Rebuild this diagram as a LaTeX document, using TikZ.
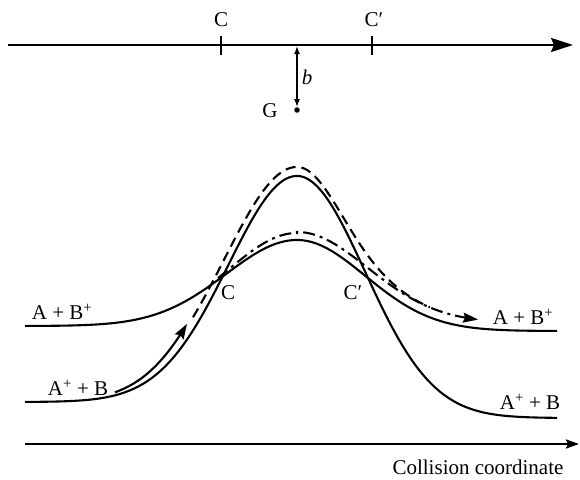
\documentclass[tikz,border=0pt]{standalone}
\usepackage{fontspec}
\setmainfont{Liberation Serif}
\usetikzlibrary{arrows.meta}
\begin{document}
\begin{tikzpicture}[x=1pt,y=-1pt,
  declare function={g(\u,\s)=exp(-((\u-297)/\s)*((\u-297)/\s));},
  lbl/.style={font=\fontsize{21}{25}\selectfont, inner sep=0pt},
  axisline/.style={line width=2.4pt},
  curveline/.style={line width=2.1pt},
  bigtip/.style={-{Stealth[length=22pt,width=14pt,inset=3pt]}},
  smalltip/.style={{Latex[length=8pt,width=6pt]}-{Latex[length=8pt,width=6pt]}},
  midtip/.style={-{Stealth[length=15pt,width=10pt,inset=2pt]}},
  dashline/.style={curveline, dash pattern=on 10pt off 6pt},
  dotdashline/.style={curveline, dash pattern=on 12pt off 5pt on 3pt off 5pt}]
\useasboundingbox (0,0) rectangle (580,479);
% top axis
\coordinate (topL) at (8,45);
\coordinate (topR) at (573,45);
\draw[axisline, bigtip] (topL) -- (topR);
\coordinate (t1a) at (221,36); \coordinate (t1b) at (221,55);
\coordinate (t2a) at (372,36); \coordinate (t2b) at (372,55);
\draw[axisline] (t1a) -- (t1b);
\draw[axisline] (t2a) -- (t2b);
\node[lbl] (cTop) at (221,20) {C};
\node[lbl] (cpTop) at (374,20) {C′};
\node[circle, fill, inner sep=0pt, minimum size=5.5pt] (gdot) at (297,110) {};
\coordinate (bTop) at (297,46);
\draw[line width=1.4pt, smalltip] (bTop) -- (gdot.north);
\node[lbl] (blab) at (307,77) {\textit{b}};
\node[lbl] (glab) at (270,111) {G};
% lower adiabatic (A+B+ asymptotes)
\draw[curveline] plot[domain=25:297, samples=120] (\x, {326-86*g(\x,100)});
\draw[curveline] plot[domain=297:557, samples=120] (\x, {331-91*g(\x,96.5)});
% upper (A+ + B asymptotes)
\draw[curveline] plot[domain=25:297, samples=120] (\x, {402-226*g(\x,97)});
\draw[curveline] plot[domain=297:557, samples=120] (\x, {418-242*g(\x,96)});
% incoming trajectory arrow
\draw[curveline, midtip] plot[domain=115:187, samples=40] (\x, {402-226*g(\x+10,97)});
% dashed trajectory
\draw[dashline] plot[domain=193:297, samples=80] (\x, {402-235*g(\x,103)})
   -- plot[domain=297:430, samples=100] (\x, {323-91*g(\x,100)-65*g(\x,55)});
% dot-dashed trajectory
\draw[dotdashline, midtip] plot[domain=218:297, samples=60] (\x, {326-93*g(\x,97)})
   -- plot[domain=297:478, samples=120] (\x, {323-91*g(\x,100)});
% labels
\node[lbl] (abpL) at (62,312) {A + B\textsuperscript{+}};
\node[lbl] (apbL) at (78,388) {A\textsuperscript{+} + B};
\node[lbl] (cMid) at (228,293) {C};
\node[lbl] (cpMid) at (353,293) {C′};
\node[lbl] (abpR) at (523,317) {A + B\textsuperscript{+}};
\node[lbl] (apbR) at (530,402) {A\textsuperscript{+} + B};
% bottom axis
\coordinate (botL) at (25,444);
\coordinate (botR) at (579,444);
\draw[axisline, -{Stealth[length=13pt,width=9pt,inset=2pt]}] (botL) -- (botR);
\node[lbl, anchor=base] (xlab) at (478,474) {Collision coordinate};
\end{tikzpicture}
\end{document}
